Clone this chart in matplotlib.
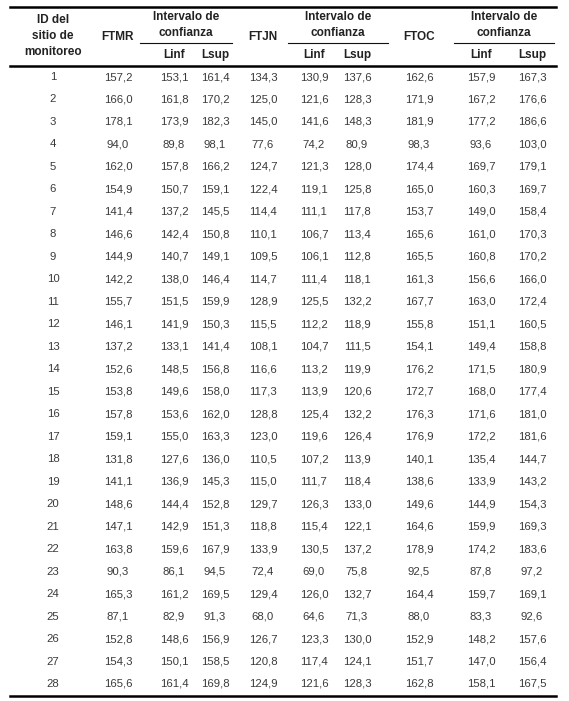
import matplotlib.pyplot as plt

plt.rcParams['font.family'] = ['Liberation Sans', 'DejaVu Sans']

site_ids = list(range(1, 29))
ftmr = [157.2, 166.0, 178.1, 94.0, 162.0, 154.9, 141.4, 146.6, 144.9, 142.2, 155.7, 146.1, 137.2, 152.6,
        153.8, 157.8, 159.1, 131.8, 141.1, 148.6, 147.1, 163.8, 90.3, 165.3, 87.1, 152.8, 154.3, 165.6]
ftmr_linf = [153.1, 161.8, 173.9, 89.8, 157.8, 150.7, 137.2, 142.4, 140.7, 138.0, 151.5, 141.9, 133.1, 148.5,
             149.6, 153.6, 155.0, 127.6, 136.9, 144.4, 142.9, 159.6, 86.1, 161.2, 82.9, 148.6, 150.1, 161.4]
ftmr_lsup = [161.4, 170.2, 182.3, 98.1, 166.2, 159.1, 145.5, 150.8, 149.1, 146.4, 159.9, 150.3, 141.4, 156.8,
             158.0, 162.0, 163.3, 136.0, 145.3, 152.8, 151.3, 167.9, 94.5, 169.5, 91.3, 156.9, 158.5, 169.8]
ftjn = [134.3, 125.0, 145.0, 77.6, 124.7, 122.4, 114.4, 110.1, 109.5, 114.7, 128.9, 115.5, 108.1, 116.6,
        117.3, 128.8, 123.0, 110.5, 115.0, 129.7, 118.8, 133.9, 72.4, 129.4, 68.0, 126.7, 120.8, 124.9]
ftjn_linf = [130.9, 121.6, 141.6, 74.2, 121.3, 119.1, 111.1, 106.7, 106.1, 111.4, 125.5, 112.2, 104.7, 113.2,
             113.9, 125.4, 119.6, 107.2, 111.7, 126.3, 115.4, 130.5, 69.0, 126.0, 64.6, 123.3, 117.4, 121.6]
ftjn_lsup = [137.6, 128.3, 148.3, 80.9, 128.0, 125.8, 117.8, 113.4, 112.8, 118.1, 132.2, 118.9, 111.5, 119.9,
             120.6, 132.2, 126.4, 113.9, 118.4, 133.0, 122.1, 137.2, 75.8, 132.7, 71.3, 130.0, 124.1, 128.3]
ftoc = [162.6, 171.9, 181.9, 98.3, 174.4, 165.0, 153.7, 165.6, 165.5, 161.3, 167.7, 155.8, 154.1, 176.2,
        172.7, 176.3, 176.9, 140.1, 138.6, 149.6, 164.6, 178.9, 92.5, 164.4, 88.0, 152.9, 151.7, 162.8]
ftoc_linf = [157.9, 167.2, 177.2, 93.6, 169.7, 160.3, 149.0, 161.0, 160.8, 156.6, 163.0, 151.1, 149.4, 171.5,
             168.0, 171.6, 172.2, 135.4, 133.9, 144.9, 159.9, 174.2, 87.8, 159.7, 83.3, 148.2, 147.0, 158.1]
ftoc_lsup = [167.3, 176.6, 186.6, 103.0, 179.1, 169.7, 158.4, 170.3, 170.2, 166.0, 172.4, 160.5, 158.8, 180.9,
             177.4, 181.0, 181.6, 144.7, 143.2, 154.3, 169.3, 183.6, 97.2, 169.1, 92.6, 157.6, 156.4, 167.5]

columns = [site_ids, ftmr, ftmr_linf, ftmr_lsup, ftjn, ftjn_linf, ftjn_lsup, ftoc, ftoc_linf, ftoc_lsup]
col_x = [53, 118, 174, 215, 263, 314, 357, 419, 481, 532]

fig = plt.figure(figsize=(5.69, 7.01), dpi=100)
ax = fig.add_axes([0, 0, 1, 1])
ax.set_xlim(0, 569)
ax.set_ylim(701, 0)
ax.axis('off')

hdr = dict(ha='center', va='center', fontsize=8.5, fontweight='bold', color='#222222')
ax.text(53, 36, "ID del\nsitio de\nmonitoreo", linespacing=1.45, **hdr)
for x, name in [(118, "FTMR"), (263, "FTJN"), (419, "FTOC")]:
    ax.text(x, 37, name, **hdr)
for x0, x1 in [(140, 232), (288, 388), (454, 554)]:
    ax.text((x0 + x1) / 2, 25, "Intervalo de\nconfianza", linespacing=1.4, **hdr)
    ax.plot([x0, x1], [43, 43], color='#111111', lw=0.8)
for i in range(3):
    ax.text(col_x[2 + 3 * i], 55, "Linf", **hdr)
    ax.text(col_x[3 + 3 * i], 55, "Lsup", **hdr)

ax.plot([10, 556], [7, 7], color='black', lw=1.8)
ax.plot([10, 556], [66, 66], color='black', lw=1.8)
ax.plot([10, 556], [696, 696], color='black', lw=1.8)

for r in range(len(site_ids)):
    y = 77 + r * (684 - 77) / 27
    for c, col in enumerate(columns):
        v = col[r]
        s = str(v) if c == 0 else f"{v:.1f}".replace('.', ',')
        ax.text(col_x[c], y, s, ha='center', va='center', fontsize=8.2, color='#3a3a3a')

fig.savefig("out.png", dpi=100)
